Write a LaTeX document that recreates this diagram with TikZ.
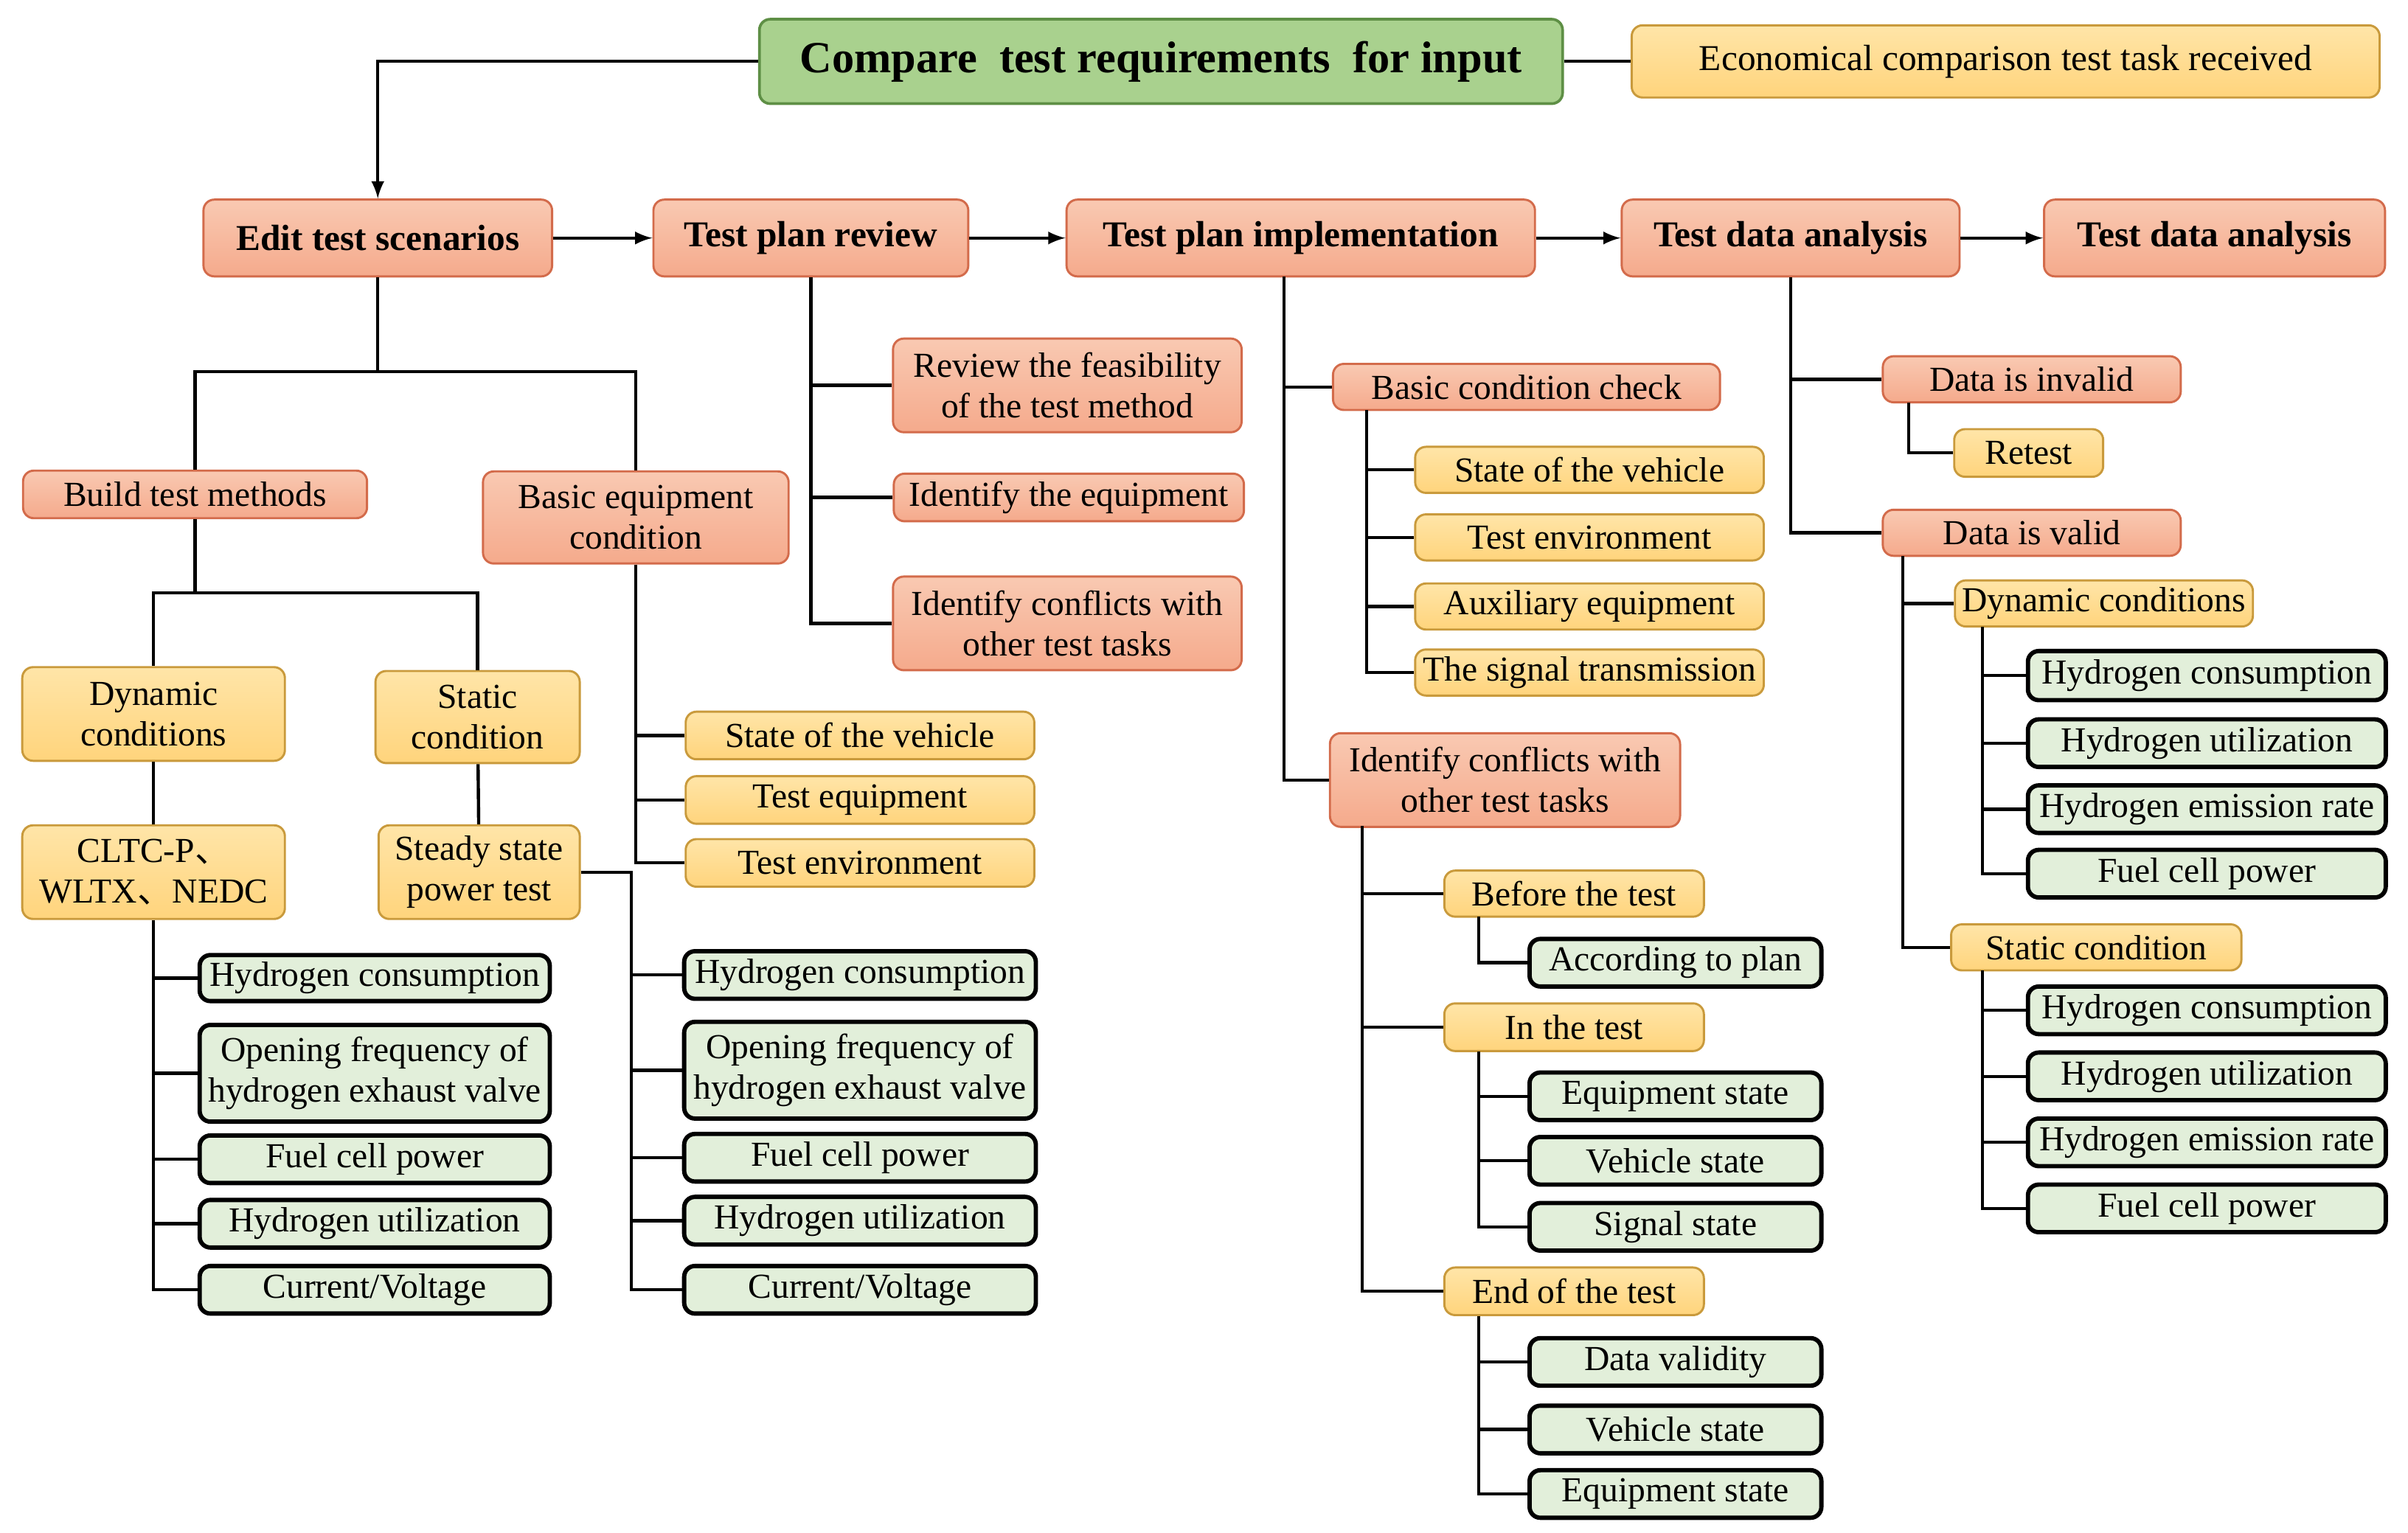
\documentclass[tikz,border=0pt]{standalone}
\usepackage{fontspec}
\setmainfont{Liberation Serif}
\newfontfamily\cjk{Noto Sans CJK SC}
\usetikzlibrary{shapes,arrows}
\definecolor{greenF}{HTML}{A9D18E}
\definecolor{greenD}{HTML}{5E8F45}
\definecolor{salmonF}{HTML}{F5AA8C}
\definecolor{salmonT}{HTML}{F9C9B2}
\definecolor{salmonD}{HTML}{D36B4B}
\definecolor{yellowF}{HTML}{FFD47C}
\definecolor{yellowT}{HTML}{FFE5A8}
\definecolor{yellowD}{HTML}{C99A3C}
\definecolor{leafF}{HTML}{E2EFDA}
\tikzstyle{box} = [draw, rectangle, rounded corners=4pt, align=center, inner sep=1pt, font=\fontsize{13}{15}\selectfont]
\tikzstyle{head} = [box, draw=greenD, fill=greenF, line width=1pt, font=\fontsize{16.5}{19}\selectfont\bfseries]
\tikzstyle{main} = [box, draw=salmonD, top color=salmonT, bottom color=salmonF, line width=0.8pt, font=\fontsize{13.5}{16}\selectfont\bfseries]
\tikzstyle{red} = [box, draw=salmonD, top color=salmonT, bottom color=salmonF, line width=0.8pt]
\tikzstyle{yel} = [box, draw=yellowD, top color=yellowT, bottom color=yellowF, line width=0.8pt]
\tikzstyle{leaf} = [box, draw=black, fill=leafF, line width=1.6pt]
\tikzset{w/.style={minimum width=#1*0.02cm}, h/.style={minimum height=#1*0.02cm}}

\begin{document}
\begin{tikzpicture}[x=0.02cm,y=0.02cm,line width=1.2pt,>=latex]
	\useasboundingbox (0,0) rectangle (1568,-998);
	% top row
	\node [head,w=523,h=55] (top) at (756,-40) {Compare\ \ test requirements\ \ for input};
	\node [yel,w=487,h=47,font=\fontsize{13.5}{16}\selectfont] (task) at (1306,-40) {Economical comparison test task received};
	\node [main,w=227,h=50] (e1) at (246,-155) {Edit test scenarios};
	\node [main,w=205,h=50] (e2) at (528,-155) {Test plan review};
	\node [main,w=305,h=50] (e3) at (847,-155) {Test plan implementation};
	\node [main,w=220,h=50] (e4) at (1166,-155) {Test data analysis};
	\node [main,w=222,h=50] (e5) at (1442,-155) {Test data analysis};
	\draw (top) -- (task);
	\draw [->] (top.west) -| (e1.north);
	\draw [->] (e1) -- (e2);
	\draw [->] (e2) -- (e3);
	\draw [->] (e3) -- (e4);
	\draw [->] (e4) -- (e5);

	% edit test scenarios
	\node [red,w=224,h=31] (build) at (127,-322) {Build test methods};
	\node [red,w=199,h=60] (basic) at (414,-337) {Basic equipment\\condition};
	\draw (e1.south) -- (246,-242) coordinate (j1);
	\draw (build.north) |- (j1) -| (basic.north);
	\node [yel,w=171,h=61] (dyn) at (100,-465) {Dynamic\\conditions};
	\node [yel,w=133,h=60] (sta) at (311,-467) {Static\\condition};
	\draw (build.south) -- (127,-386) coordinate (j2);
	\draw (dyn.north) |- (j2) -| (sta.north);
	\node [yel,w=171,h=61] (cltc) at (100,-568) {CLTC-P{\cjk 、}\\WLTX{\cjk 、}NEDC};
	\node [yel,w=131,h=61] (steady) at (312,-568) {Steady state\\power test};
	\draw (dyn) -- (cltc);
	\draw (sta) -- (steady);
	\node [leaf,w=228,h=30] (la1) at (244,-637) {Hydrogen consumption};
	\node [leaf,w=228,h=63] (la2) at (244,-699) {Opening frequency of\\hydrogen exhaust valve};
	\node [leaf,w=228,h=31] (la3) at (244,-755) {Fuel cell power};
	\node [leaf,w=228,h=31] (la4) at (244,-797) {Hydrogen utilization};
	\node [leaf,w=228,h=31] (la5) at (244,-840) {Current/Voltage};
	\draw (cltc.south) |- (la5.west);
	\foreach \n in {la1,la2,la3,la4} \draw (cltc.south |- \n) -- (\n.west);
	\node [yel,w=227,h=31] (be1) at (560,-479) {State of the vehicle};
	\node [yel,w=227,h=31] (be2) at (560,-521) {Test equipment};
	\node [yel,w=227,h=31] (be3) at (560,-562) {Test environment};
	\draw (basic.south) |- (be3.west);
	\foreach \n in {be1,be2} \draw (basic.south |- \n) -- (\n.west);
	\node [leaf,w=229,h=31] (lb1) at (560,-635) {Hydrogen consumption};
	\node [leaf,w=229,h=63] (lb2) at (560,-697) {Opening frequency of\\hydrogen exhaust valve};
	\node [leaf,w=229,h=31] (lb3) at (560,-754) {Fuel cell power};
	\node [leaf,w=229,h=31] (lb4) at (560,-795) {Hydrogen utilization};
	\node [leaf,w=229,h=31] (lb5) at (560,-840) {Current/Voltage};
	\coordinate (j3) at (411,-568);
	\draw (steady.east) -- (j3) |- (lb5.west);
	\foreach \n in {lb1,lb2,lb3,lb4} \draw (j3 |- \n) -- (\n.west);

	% test plan review
	\node [red,w=227,h=61] (rv1) at (695,-251) {Review the feasibility\\of the test method};
	\node [red,w=228,h=31] (rv2) at (696,-324) {Identify the equipment};
	\node [red,w=227,h=61] (rv3) at (695,-406) {Identify conflicts with\\other test tasks};
	\draw (e2.south) |- (rv3.west);
	\foreach \n in {rv1,rv2} \draw (e2.south |- \n) -- (\n.west);

	% test plan implementation
	\node [red,w=252,h=30] (chk) at (994,-252) {Basic condition check};
	\node [red,w=228,h=61] (cfl) at (980,-508) {Identify conflicts with\\other test tasks};
	\coordinate (j4) at (836,-180);
	\draw (j4) |- (cfl.west);
	\draw (j4 |- chk) -- (chk.west);
	\node [yel,w=227,h=30] (ck1) at (1035,-306) {State of the vehicle};
	\node [yel,w=227,h=30] (ck2) at (1035,-350) {Test environment};
	\node [yel,w=227,h=30] (ck3) at (1035,-395) {Auxiliary equipment};
	\node [yel,w=227,h=30] (ck4) at (1035,-438) {The signal transmission};
	\coordinate (j5) at (890,-267);
	\draw (j5) |- (ck4.west);
	\foreach \n in {ck1,ck2,ck3} \draw (j5 |- \n) -- (\n.west);
	\node [yel,w=169,h=30] (bef) at (1025,-582) {Before the test};
	\node [yel,w=169,h=31] (int) at (1025,-669) {In the test};
	\node [yel,w=169,h=31] (end) at (1025,-841) {End of the test};
	\coordinate (j6) at (887,-538);
	\draw (j6) |- (end.west);
	\foreach \n in {bef,int} \draw (j6 |- \n) -- (\n.west);
	\node [leaf,w=190,h=31] (bf1) at (1091,-627) {According to plan};
	\draw (963,-597) |- (bf1.west);
	\node [leaf,w=190,h=31] (in1) at (1091,-714) {Equipment state};
	\node [leaf,w=190,h=31] (in2) at (1091,-756) {Vehicle state};
	\node [leaf,w=190,h=31] (in3) at (1091,-799) {Signal state};
	\coordinate (j7) at (963,-685);
	\draw (j7) |- (in3.west);
	\foreach \n in {in1,in2} \draw (j7 |- \n) -- (\n.west);
	\node [leaf,w=190,h=31] (en1) at (1091,-887) {Data validity};
	\node [leaf,w=190,h=31] (en2) at (1091,-931) {Vehicle state};
	\node [leaf,w=190,h=31] (en3) at (1091,-973) {Equipment state};
	\coordinate (j8) at (963,-857);
	\draw (j8) |- (en3.west);
	\foreach \n in {en1,en2} \draw (j8 |- \n) -- (\n.west);

	% test data analysis
	\node [red,w=194,h=30] (inv) at (1323,-247) {Data is invalid};
	\node [red,w=194,h=30] (val) at (1323,-347) {Data is valid};
	\draw (e4.south) |- (val.west);
	\draw (e4.south |- inv) -- (inv.west);
	\node [yel,w=97,h=31] (ret) at (1321,-295) {Retest};
	\draw (1243,-262) |- (ret.west);
	\node [yel,w=194,h=30] (vdyn) at (1370,-393) {Dynamic conditions};
	\node [yel,w=189,h=30] (vsta) at (1365,-617) {Static condition};
	\coordinate (j9) at (1239,-362);
	\draw (j9) |- (vsta.west);
	\draw (j9 |- vdyn) -- (vdyn.west);
	\node [leaf,w=233,h=32] (vd1) at (1437,-440) {Hydrogen consumption};
	\node [leaf,w=233,h=31] (vd2) at (1437,-484) {Hydrogen utilization};
	\node [leaf,w=233,h=31] (vd3) at (1437,-527) {Hydrogen emission rate};
	\node [leaf,w=233,h=31] (vd4) at (1437,-569) {Fuel cell power};
	\coordinate (j10) at (1291,-408);
	\draw (j10) |- (vd4.west);
	\foreach \n in {vd1,vd2,vd3} \draw (j10 |- \n) -- (\n.west);
	\node [leaf,w=233,h=31] (vs1) at (1437,-658) {Hydrogen consumption};
	\node [leaf,w=233,h=31] (vs2) at (1437,-701) {Hydrogen utilization};
	\node [leaf,w=233,h=31] (vs3) at (1437,-744) {Hydrogen emission rate};
	\node [leaf,w=233,h=31] (vs4) at (1437,-787) {Fuel cell power};
	\coordinate (j11) at (1291,-632);
	\draw (j11) |- (vs4.west);
	\foreach \n in {vs1,vs2,vs3} \draw (j11 |- \n) -- (\n.west);
\end{tikzpicture}
\end{document}
